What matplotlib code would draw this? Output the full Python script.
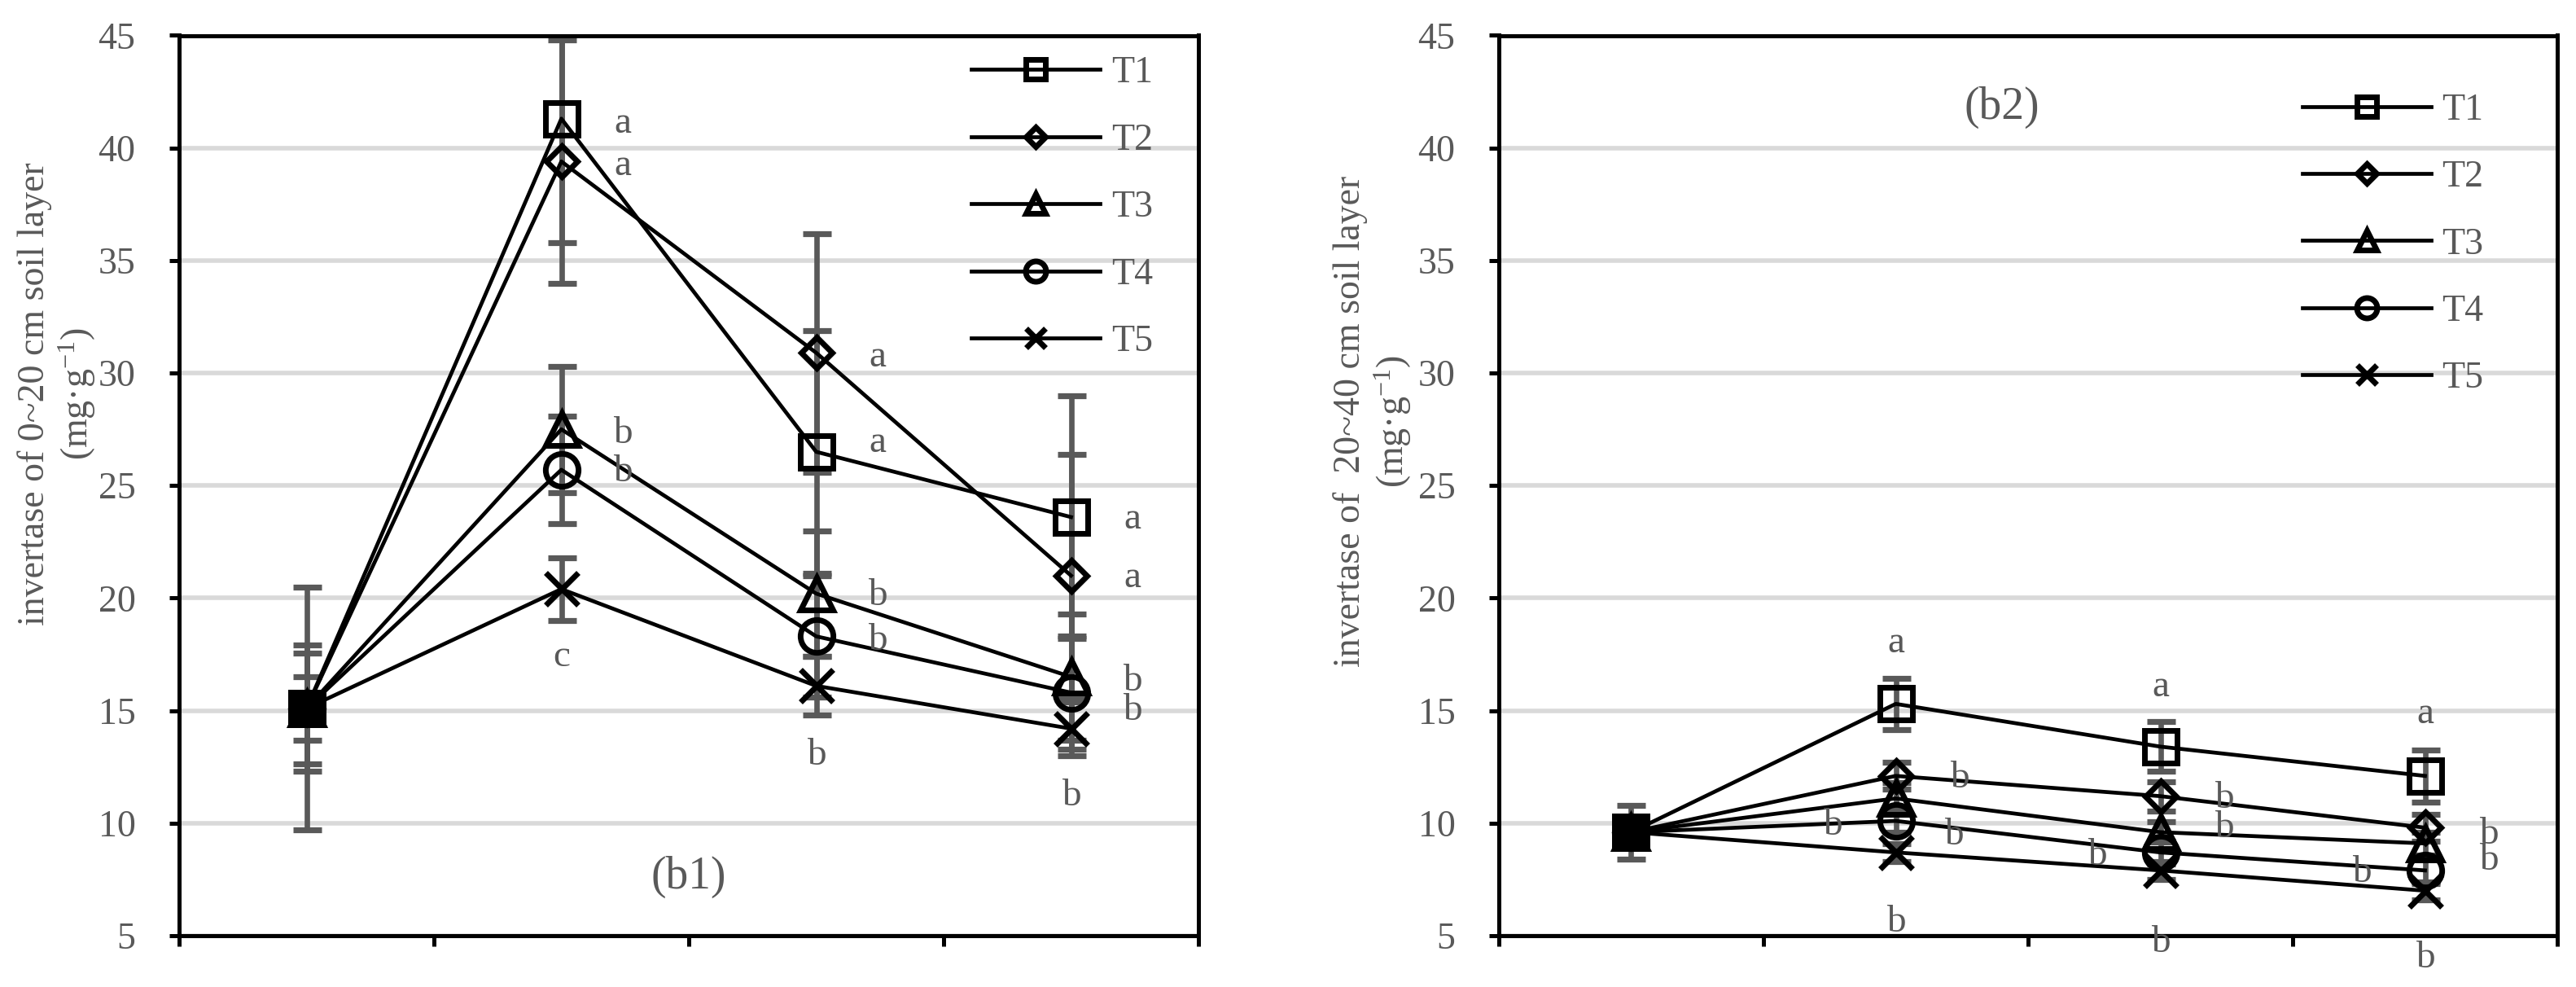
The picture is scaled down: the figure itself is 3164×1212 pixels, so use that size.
import matplotlib
matplotlib.use('Agg')
import matplotlib.pyplot as plt
import numpy as np

plt.rcParams['font.family'] = ['Liberation Serif', 'DejaVu Serif']
plt.rcParams['mathtext.fontset'] = 'custom'
plt.rcParams['mathtext.rm'] = 'Liberation Serif'
plt.rcParams['mathtext.it'] = 'Liberation Serif:italic'

# four sampling stages (no tick labels on the x axis in the original)
stages = [0, 1, 2, 3]
names = ['T1', 'T2', 'T3', 'T4', 'T5']
markers = ['s', 'D', '^', 'o', 'x']
msizes = [14.5, 9.5, 14.5, 14.5, 14.5]

# 0-20 cm layer
top_T1 = [15.1, 41.3, 26.5, 23.6]
top_T2 = [15.1, 39.4, 30.9, 21.0]
top_T3 = [15.1, 27.5, 20.2, 16.5]
top_T4 = [15.1, 25.7, 18.3, 15.8]
top_T5 = [15.1, 20.4, 16.1, 14.2]
top_err_T1 = [5.4, 5.5, 5.4, 5.4]
top_err_T2 = [2.8, 5.4, 5.3, 5.4]
top_err_T3 = [2.45, 2.8, 2.8, 2.8]
top_err_T4 = [1.4, 2.4, 2.7, 2.5]
top_err_T5 = [0.5, 1.4, 1.3, 1.2]

# 20-40 cm layer
sub_T1 = [9.6, 15.3, 13.4, 12.1]
sub_T2 = [9.6, 12.1, 11.2, 9.8]
sub_T3 = [9.6, 11.1, 9.6, 9.1]
sub_T4 = [9.6, 10.1, 8.7, 7.9]
sub_T5 = [9.6, 8.7, 7.9, 7.0]
sub_err_T1 = [1.2, 1.15, 1.1, 1.15]
sub_err_T2 = [0.6, 0.6, 0.65, 0.6]
sub_err_T3 = [0.5, 0.7, 0.45, 0.5]
sub_err_T4 = [0.5, 0.5, 0.5, 0.6]
sub_err_T5 = [0.4, 0.4, 0.4, 0.4]

# significance letters: (text, stage, x offset, y)
top_letters = [('a', 1, 0.24, 41.1), ('a', 1, 0.24, 39.2), ('b', 1, 0.24, 27.3),
               ('b', 1, 0.24, 25.6), ('c', 1, 0.0, 17.4),
               ('a', 2, 0.24, 30.7), ('a', 2, 0.24, 26.9), ('b', 2, 0.24, 20.1),
               ('b', 2, 0.24, 18.1), ('b', 2, 0.0, 13.0),
               ('a', 3, 0.24, 23.5), ('a', 3, 0.24, 20.9), ('b', 3, 0.24, 16.3),
               ('b', 3, 0.24, 15.0), ('b', 3, 0.0, 11.2)]
sub_letters = [('a', 1, 0.0, 18.0), ('b', 1, 0.24, 12.0), ('b', 1, -0.24, 9.9),
               ('b', 1, 0.22, 9.45), ('b', 1, 0.0, 5.6),
               ('a', 2, 0.0, 16.05), ('b', 2, 0.24, 11.1), ('b', 2, 0.24, 9.8),
               ('b', 2, -0.24, 8.55), ('b', 2, 0.0, 4.7),
               ('a', 3, 0.0, 14.85), ('b', 3, 0.24, 9.5), ('b', 3, 0.24, 8.35),
               ('b', 3, -0.24, 7.8), ('b', 3, 0.0, 4.0)]

grey = '#595959'


def panel(ax, vals, errs, letters, ylabel, ylab_pos, tag, tag_pos, leg_anchor):
    x = np.array(stages)
    for v, e in zip(vals, errs):
        ax.errorbar(x, v, yerr=e, fmt='none', ecolor=grey, elinewidth=2.4,
                    capsize=6.3, capthick=2.6, zorder=2)
    for v, name, m, ms in zip(vals, names, markers, msizes):
        ax.plot(x, v, color='black', lw=1.7, marker=m, ms=ms, mew=2.5,
                mfc='none', mec='black', label=name, zorder=3)
    # first stage: all treatments coincide, drawn as a solid square
    ax.plot(x[:1], vals[0][:1], ls='none', marker='s', ms=14.5, mew=2.5,
            mfc='black', mec='black', zorder=4)

    for t, s, dx, y in letters:
        ax.text(s + dx, y, t, ha='center', va='center', fontsize=17,
                color=grey, clip_on=False)
    ax.text(tag_pos[0], tag_pos[1], tag, ha='center', va='center',
            fontsize=20, color=grey)

    ax.set_xlim(-0.5, 3.5)
    ax.set_ylim(5, 45)
    ax.set_yticks(range(5, 50, 5))
    ax.set_xticks([-0.5, 0.5, 1.5, 2.5, 3.5])
    ax.set_xticklabels([])
    ax.yaxis.grid(True, color='#d9d9d9', lw=2.0, zorder=0)
    ax.set_axisbelow(True)
    for sp in ax.spines.values():
        sp.set_linewidth(1.8)
        sp.set_color('black')
    ax.tick_params(axis='y', direction='out', length=4.3, width=1.8,
                   pad=15, labelsize=16.5, labelcolor=grey)
    ax.tick_params(axis='x', direction='out', length=4.5, width=1.8)

    ax.text(ylab_pos[0], ylab_pos[1], ylabel, transform=ax.transAxes,
            rotation=90, ha='center', va='center', multialignment='center',
            fontsize=16.5, color=grey, linespacing=1.15)

    ax.legend(loc='upper left', bbox_to_anchor=leg_anchor, frameon=False,
              fontsize=16.5, labelcolor=grey, handlelength=3.45,
              handletextpad=0.3, labelspacing=0.87, borderpad=0,
              borderaxespad=0, markerscale=0.62)


fig = plt.figure(figsize=(15.82, 6.06), dpi=200)
ax1 = fig.add_axes([220 / 3164, 63 / 1212, 1252 / 3164, 1105.5 / 1212])
ax2 = fig.add_axes([1841 / 3164, 63 / 1212, 1300 / 3164, 1105.5 / 1212])

panel(ax1,
      [top_T1, top_T2, top_T3, top_T4, top_T5],
      [top_err_T1, top_err_T2, top_err_T3, top_err_T4, top_err_T5],
      top_letters,
      'invertase of 0~20 cm soil layer\n(mg·g$^{\\mathrm{-1}}$)', (-0.119, 0.602),
      '(b1)', (1.5, 7.6), (0.777, 0.977))

panel(ax2,
      [sub_T1, sub_T2, sub_T3, sub_T4, sub_T5],
      [sub_err_T1, sub_err_T2, sub_err_T3, sub_err_T4, sub_err_T5],
      sub_letters,
      'invertase of  20~40 cm soil layer\n(mg·g$^{\\mathrm{-1}}$)', (-0.119, 0.571),
      '(b2)', (1.4, 41.8), (0.759, 0.936))

fig.savefig('out.png', dpi=200)
